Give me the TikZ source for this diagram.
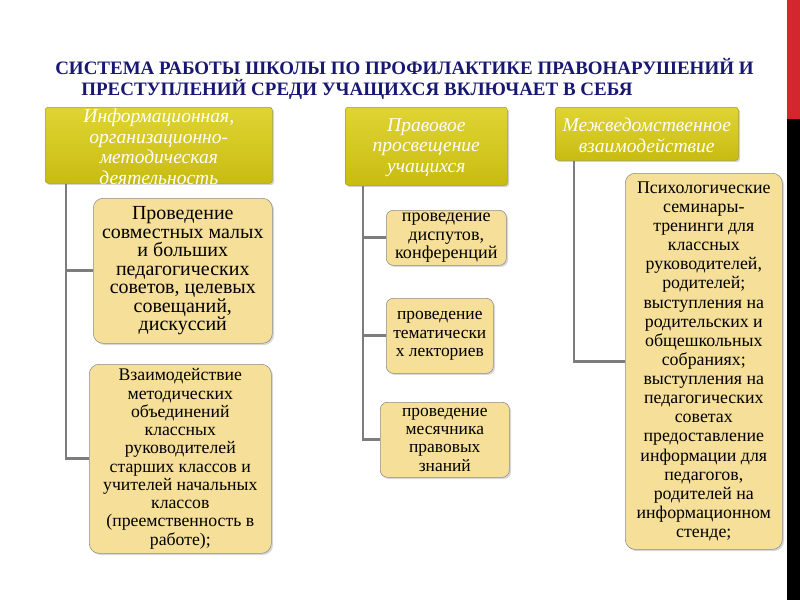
\documentclass[tikz,border=0pt]{standalone}
\usepackage{fontspec}
\setmainfont{Liberation Serif}
\usetikzlibrary{shadows}

\definecolor{titleblue}{RGB}{24,24,115}
\definecolor{hdrtop}{RGB}{224,212,52}
\definecolor{hdrbot}{RGB}{200,188,18}
\definecolor{hdrline}{RGB}{170,160,20}
\definecolor{leaffill}{RGB}{246,223,152}
\definecolor{leafline}{RGB}{140,140,140}
\definecolor{linkgray}{RGB}{125,125,125}
\definecolor{barred}{RGB}{210,40,45}

\newcommand{\fsz}[2]{\fontsize{#1}{#2}\selectfont}

\tikzset{
  hdr/.style={draw=hdrline, top color=hdrtop, bottom color=hdrbot, rounded corners=2pt,
    anchor=north west, inner sep=0pt,
    drop shadow={opacity=0.35, shadow xshift=1.2pt, shadow yshift=-1.2pt}},
  hdrtext/.style={align=center, inner sep=0pt, text=white, font=\itshape\fsz{13.9}{14.6}},
  leaf/.style={draw=leafline, fill=leaffill, rounded corners=7pt, anchor=north west,
    inner sep=1pt, align=center,
    drop shadow={opacity=0.3, shadow xshift=1.2pt, shadow yshift=-1.2pt}},
  link/.style={draw=linkgray, line width=2pt},
  heading/.style={anchor=base west, inner sep=0pt, text=titleblue, font=\bfseries\fsz{13.5}{14}},
}

\begin{document}
\begin{tikzpicture}[x=0.025cm,y=-0.025cm]
  % page
  \fill[white] (0,0) rectangle (800,600);
  \useasboundingbox (0,0) rectangle (800,600);

  % side bar
  \fill[barred] (787,0) rectangle (800,119);
  \fill[black] (787,119) rectangle (800,600);

  % title
  \node[heading] (title1) at (55,74) {СИСТЕМА РАБОТЫ ШКОЛЫ ПО ПРОФИЛАКТИКЕ ПРАВОНАРУШЕНИЙ И};
  \node[heading] (title2) at (81,95) {ПРЕСТУПЛЕНИЙ СРЕДИ УЧАЩИХСЯ ВКЛЮЧАЕТ В СЕБЯ};

  % headers
  \node[hdr, minimum width=5.675cm, minimum height=1.9cm] (h1) at (45,107) {};
  \node[hdrtext] (h1txt) at ([yshift=-1pt]h1.center) {Информационная,\\организационно-\\методическая\\деятельность};
  \node[hdr, minimum width=4.05cm, minimum height=1.95cm] (h2) at (345,107) {};
  \node[hdrtext] (h2txt) at ([yshift=-1pt]h2.center) {Правовое\\просвещение\\учащихся};
  \node[hdr, minimum width=4.575cm, minimum height=1.325cm] (h3) at (555,107) {};
  \node[hdrtext] (h3txt) at ([yshift=-1pt]h3.center) {Межведомственное\\взаимодействие};

  % column 1
  \node[leaf, minimum width=4.475cm, minimum height=3.625cm, font=\fsz{14.2}{13.2}] (b1) at (93,198)
    {Проведение\\совместных малых\\и больших\\педагогических\\советов, целевых\\совещаний,\\дискуссий};
  \node[leaf, minimum width=4.55cm, minimum height=4.725cm, font=\fsz{12.6}{13.0}] (b2) at (89,364)
    {Взаимодействие\\методических\\объединений\\классных\\руководителей\\старших классов и\\учителей начальных\\классов\\(преемственность в\\работе);};

  % column 2
  \node[leaf, minimum width=3cm, minimum height=1.375cm, font=\fsz{12.9}{12.9}, inner sep=0pt, rounded corners=5pt] (c1) at (386,210)
    {проведение\\диспутов,\\конференций};
  \node[leaf, minimum width=2.675cm, minimum height=1.875cm, font=\fsz{12.4}{13.0}, rounded corners=5pt] (c2) at (386,298)
    {проведение\\тематически\\х лекториев};
  \node[leaf, minimum width=3.225cm, minimum height=1.875cm, font=\fsz{12.4}{13.0}, rounded corners=5pt] (c3) at (380,402)
    {проведение\\месячника\\правовых\\знаний};

  % column 3
  \node[leaf, minimum width=3.925cm, minimum height=9.4cm, font=\fsz{12.7}{13.6}] (d1) at (625,173)
    {Психологические\\семинары-\\тренинги для\\классных\\руководителей,\\родителей;\\выступления на\\родительских и\\общешкольных\\собраниях;\\выступления на\\педагогических\\советах\\предоставление\\информации для\\педагогов,\\родителей на\\информационном\\стенде;};

  % trunks
  \coordinate (t1) at ([xshift=0.525cm]h1.south west);
  \coordinate (t2) at ([xshift=0.45cm]h2.south west);
  \coordinate (t3) at ([xshift=0.475cm]h3.south west);

  % branches
  \draw[link] (t1) |- (b2.west);
  \draw[link] (t1 |- b1.west) -- (b1.west);
  \draw[link] (t2) |- (c3.west);
  \foreach \leaf in {c1,c2} {
    \draw[link] (t2 |- \leaf.west) -- (\leaf.west);
  }
  \draw[link] (t3) |- (d1.west);
\end{tikzpicture}
\end{document}
